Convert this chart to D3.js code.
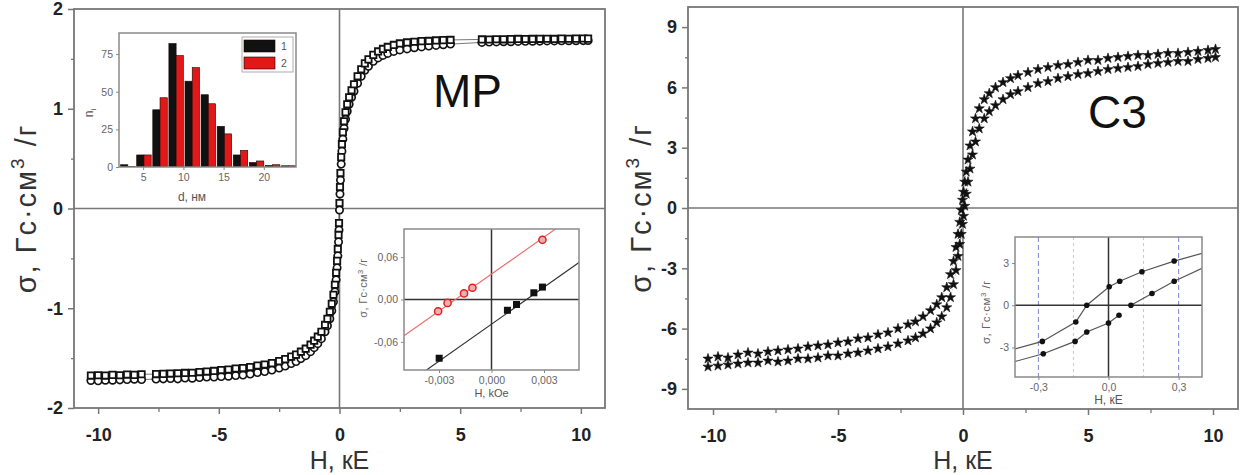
<!DOCTYPE html>
<html><head><meta charset="utf-8">
<script src="https://cdn.jsdelivr.net/npm/d3@7"></script>
<style>
body{margin:0;background:#fff;}
svg{display:block;font-family:"Liberation Sans",Arial,sans-serif;}
</style>
</head><body>
<svg id="c" width="1241" height="475"></svg>
<script>
// ---------------- DATA ----------------
// Panel MP: field H (kOe) and two branches of sigma
const mpH = [-10.3,-10.0,-9.7,-9.4,-9.1,-8.8,-8.5,-8.2,
  -7.6,-7.3,-7.0,-6.7,-6.4,-6.1,-5.8,-5.5,-5.2,-4.9,-4.6,-4.3,-4.0,
  -3.7,-3.4,-3.1,-2.8,-2.5,-2.25,-2.0,-1.8,-1.6,-1.4,-1.2,-1.05,-0.9,-0.75,-0.6,-0.5,-0.4,-0.32,-0.25,-0.19,-0.14,-0.1,-0.07,-0.04,-0.02,
  0,
  0.02,0.04,0.07,0.1,0.14,0.19,0.25,0.32,0.4,0.5,0.6,0.75,0.9,1.05,1.2,1.4,1.6,1.8,2.0,2.25,2.5,2.8,3.1,3.4,3.7,4.0,4.3,4.6,
  5.9,6.2,6.5,6.8,7.1,7.4,7.7,8.0,8.3,8.6,8.9,9.2,9.5,9.8,10.1,10.3];
const mpBranchA = [-1.675,-1.672,-1.675,-1.668,-1.672,-1.665,-1.668,-1.662,
  -1.66,-1.658,-1.655,-1.652,-1.648,-1.646,-1.64,-1.635,-1.628,-1.62,-1.615,-1.605,-1.60,
  -1.59,-1.575,-1.565,-1.55,-1.53,-1.51,-1.485,-1.465,-1.435,-1.405,-1.365,-1.325,-1.285,-1.235,-1.165,-1.105,-1.035,-0.955,-0.865,-0.765,-0.645,-0.525,-0.405,-0.265,-0.145,
  0.055,
  0.215,0.355,0.515,0.645,0.765,0.875,0.965,1.045,1.115,1.185,1.245,1.325,1.395,1.455,1.495,1.54,1.575,1.60,1.62,1.64,1.655,1.665,1.672,1.678,1.68,1.685,1.688,1.69,
  1.695,1.694,1.697,1.696,1.698,1.70,1.699,1.70,1.701,1.702,1.70,1.703,1.702,1.703,1.704,1.703];
const mpBranchB = [-1.725,-1.728,-1.722,-1.722,-1.718,-1.715,-1.712,-1.715,
  -1.71,-1.708,-1.705,-1.708,-1.70,-1.702,-1.695,-1.69,-1.69,-1.685,-1.682,-1.675,-1.67,
  -1.66,-1.645,-1.635,-1.62,-1.60,-1.58,-1.555,-1.535,-1.505,-1.475,-1.435,-1.395,-1.355,-1.305,-1.235,-1.175,-1.105,-1.025,-0.935,-0.835,-0.715,-0.595,-0.475,-0.335,-0.215,
  -0.015,
  0.145,0.285,0.445,0.575,0.695,0.805,0.895,0.975,1.045,1.115,1.175,1.255,1.325,1.385,1.425,1.475,1.51,1.535,1.555,1.575,1.59,1.60,1.612,1.62,1.628,1.635,1.642,1.648,
  1.665,1.668,1.67,1.672,1.672,1.675,1.676,1.677,1.678,1.68,1.68,1.681,1.682,1.682,1.683,1.684];

// Panel C3: field H (kOe) and two hysteresis branches
const c3H = [-10.2,-9.8,-9.4,-9.0,-8.6,-8.2,-7.8,-7.4,-7.0,-6.6,
  -6.2,-5.8,-5.4,-5.0,-4.6,-4.2,-3.8,-3.4,-3.0,-2.6,
  -2.2,-1.9,-1.6,-1.3,-1.05,-0.85,-0.65,-0.5,-0.38,-0.28,
  -0.2,-0.13,-0.07,-0.02,
  0.02,0.07,0.13,0.2,
  0.28,0.38,0.5,0.65,0.85,1.05,1.3,1.6,1.9,2.2,
  2.6,3.0,3.4,3.8,4.2,4.6,5.0,5.4,5.8,6.2,
  6.6,7.0,7.4,7.8,8.2,8.6,9.0,9.4,9.8,10.1];
const c3Down = [-7.5,-7.4,-7.45,-7.3,-7.2,-7.25,-7.15,-7.1,-7.05,-7.0,
  -6.9,-6.85,-6.8,-6.7,-6.65,-6.5,-6.45,-6.3,-6.2,-6.0,
  -5.8,-5.65,-5.4,-5.1,-4.8,-4.45,-3.95,-3.3,-2.65,-1.95,
  -1.3,-0.7,-0.1,0.4,
  0.8,1.3,1.8,2.4,
  3.1,3.8,4.45,4.95,5.4,5.7,6.0,6.25,6.45,6.6,
  6.75,6.9,7.0,7.1,7.15,7.25,7.35,7.35,7.45,7.5,
  7.55,7.6,7.6,7.65,7.7,7.7,7.75,7.8,7.85,7.9];
const c3Up = [-7.9,-7.85,-7.8,-7.75,-7.7,-7.7,-7.6,-7.65,-7.6,-7.5,
  -7.5,-7.45,-7.35,-7.35,-7.25,-7.2,-7.1,-7.0,-6.9,-6.75,
  -6.6,-6.45,-6.25,-6.0,-5.7,-5.4,-4.95,-4.45,-3.8,-3.1,
  -2.4,-1.8,-1.3,-0.8,
  -0.4,0.1,0.7,1.3,
  1.95,2.65,3.3,3.95,4.45,4.8,5.1,5.4,5.65,5.8,
  6.0,6.2,6.3,6.45,6.55,6.65,6.7,6.8,6.9,6.95,
  7.0,7.05,7.15,7.2,7.25,7.3,7.3,7.4,7.45,7.5];

// Histogram inset (size distribution)
const histD = [3,5,7,9,11,13,15,17,19,21,23];
const hist1 = [1.5,8,38,82,57,48,27,8,3,1,0.8];
const hist2 = [0.3,8,46,74,66,42,22,11,4,1.5,0.8];
const histSeries = ["1","2"];
const histXTicks = [5,10,15,20];
const histYTicks = [0,25,50,75];

// MP low-field inset
const lowRedH = [-0.00305,-0.00251,-0.00157,-0.00109,0.00291];
const lowRedS = [-0.0167,-0.0048,0.0086,0.0167,0.0847];
const lowBlackH = [-0.00299,0.00091,0.00143,0.00242,0.00291];
const lowBlackS = [-0.0833,-0.0153,-0.0071,0.0095,0.0176];
const lowFitIntercept = [0.036,-0.035];
const lowFitSlope = [17.5,17.5];
const lowXTicks = [-0.003,0,0.003];
const lowXTickLabels = ["-0,003","0,000","0,003"];
const lowYTicks = [-0.06,0,0.06];
const lowYTickLabels = ["-0,06","0,00","0,06"];

// C3 low-field inset (loop)
const loopUpperH = [-0.4,-0.283,-0.14,-0.093,0.003,0.048,0.143,0.281,0.4];
const loopUpperS = [-3.1,-2.57,-1.19,0.0,1.31,1.71,2.38,3.14,3.69];
const loopLowerH = [-0.4,-0.279,-0.143,-0.093,0.0,0.045];
const loopLowerS = [-4.0,-3.45,-2.57,-1.9,-1.26,-0.71];
const loopLower2H = [0.096,0.186,0.281,0.4];
const loopLower2S = [0.0,0.83,1.71,2.62];
const loopGuideStrong = [-0.3,0.3];
const loopGuideLight = [-0.15,0.15];
const loopXTicks = [-0.3,0,0.3];
const loopXTickLabels = ["-0,3","0,0","0,3"];
const loopYTicks = [-3,0,3];
const loopYTickLabels = ["-3","0","3"];

// Main axes ticks
const mainXMajor = [-10,-5,0,5,10];
const mainXMinor = [-7.5,-2.5,2.5,7.5];
const mpYMajor = [-2,-1,0,1,2];
const mpYMinor = [-1.5,-0.5,0.5,1.5];
const c3YMajor = [-9,-6,-3,0,3,6,9];
const c3YMinor = [-7.5,-4.5,-1.5,1.5,4.5,7.5];

// ---------------- DRAWING ----------------
const svg = d3.select("#c");
const FRAME = "#777";

function styleAxis(sel, size, weight, fill, lineColor, lw){
  sel.select(".domain").remove();
  sel.selectAll(".tick line").attr("stroke", lineColor).attr("stroke-width", lw);
  sel.selectAll(".tick text").attr("font-size", size).attr("font-weight", weight)
     .attr("fill", fill).attr("font-family", '"Liberation Sans", Arial, sans-serif');
}

function yLabel(g, x, cy, size, supSize, supShift, color, spacing){
  const t = g.append("text").attr("transform", `translate(${x},${cy}) rotate(-90)`)
    .attr("text-anchor","middle").attr("font-size", size).attr("fill", color)
    .attr("letter-spacing", spacing || 0);
  t.append("tspan").text("σ, Гс·см");
  t.append("tspan").attr("font-size", supSize).attr("dy", -supShift).text("3");
  t.append("tspan").attr("dy", supShift).text(" /г");
  return t;
}

function mainPanel(box, yDom, yMaj, yMin, labelX, title){
  const x = d3.scaleLinear().domain([-11,11]).range([box.x0, box.x1]);
  const y = d3.scaleLinear().domain(yDom).range([box.y1, box.y0]);
  const g = svg.append("g");
  g.append("line").attr("x1",box.x0).attr("x2",box.x1).attr("y1",y(0)).attr("y2",y(0))
    .attr("stroke",FRAME).attr("stroke-width",1.6);
  g.append("line").attr("x1",x(0)).attr("x2",x(0)).attr("y1",box.y0).attr("y2",box.y1)
    .attr("stroke",FRAME).attr("stroke-width",1.6);
  g.append("rect").attr("x",box.x0).attr("y",box.y0).attr("width",box.x1-box.x0)
    .attr("height",box.y1-box.y0).attr("fill","none").attr("stroke",FRAME).attr("stroke-width",1.8);
  const bx = g.append("g").attr("transform",`translate(0,${box.y1})`)
    .call(d3.axisBottom(x).tickValues(mainXMajor).tickSize(6).tickPadding(14).tickFormat(d=>String(d)));
  styleAxis(bx, 18, "bold", "#222", FRAME, 1.5);
  const bxm = g.append("g").attr("transform",`translate(0,${box.y1})`)
    .call(d3.axisBottom(x).tickValues(mainXMinor).tickSize(4).tickFormat(""));
  styleAxis(bxm, 1, "normal", "#222", FRAME, 1.3);
  const ly = g.append("g").attr("transform",`translate(${box.x0},0)`)
    .call(d3.axisLeft(y).tickValues(yMaj).tickSize(6).tickPadding(5).tickFormat(d=>String(d)));
  styleAxis(ly, 18, "bold", "#222", FRAME, 1.5);
  const lym = g.append("g").attr("transform",`translate(${box.x0},0)`)
    .call(d3.axisLeft(y).tickValues(yMin).tickSize(3).tickFormat(""));
  styleAxis(lym, 1, "normal", "#222", FRAME, 1.3);
  g.append("text").attr("x",(x(0))).attr("y",469).attr("text-anchor","middle")
    .attr("font-size",25).attr("fill","#333").text("H, кЕ");
  yLabel(g, labelX, y(0), 29, 19, 12, "#333", 2);
  g.append("text").attr("x",title.x).attr("y",title.y).attr("font-size",title.size)
    .attr("fill","#111").text(title.text);
  return {x,y,g};
}

// ---- Left main panel (MP)
const L = {x0:74, x1:605, y0:9, y1:408};
const mp = mainPanel(L, [-2,2], mpYMajor, mpYMinor, 36, {x:433,y:107,size:46,text:"MP"});
const lineGen = (xs,ys) => d3.line().x(d=>xs(d[0])).y(d=>ys(d[1]));
const mpA = mpH.map((h,i)=>[h, mpBranchA[i]]);
const mpB = mpH.map((h,i)=>[h, mpBranchB[i]]);
[mpA, mpB].forEach(pts=>{
  mp.g.append("path").attr("d", lineGen(mp.x,mp.y)(pts)).attr("fill","none")
    .attr("stroke","#555").attr("stroke-width",0.8);
});
mp.g.selectAll(".mpb").data(mpB).enter().append("path")
  .attr("transform",d=>`translate(${mp.x(d[0])},${mp.y(d[1])})`)
  .attr("d", d3.symbol().type(d3.symbolCircle).size(42)())
  .attr("fill","#fff").attr("stroke","#111").attr("stroke-width",1.7);
mp.g.selectAll(".mpa").data(mpA).enter().append("path")
  .attr("transform",d=>`translate(${mp.x(d[0])},${mp.y(d[1])})`)
  .attr("d", d3.symbol().type(d3.symbolSquare).size(40)())
  .attr("fill","#fff").attr("stroke","#111").attr("stroke-width",1.8);

// ---- Right main panel (C3)
const R = {x0:688, x1:1238, y0:7, y1:409};
const c3 = mainPanel(R, [-10,10], c3YMajor, c3YMinor, 651, {x:1088,y:128,size:46,text:"C3"});
const star = d3.symbol().type(d3.symbolStar).size(32)();
[c3Down, c3Up].forEach(arr=>{
  const pts = c3H.map((h,i)=>[h, arr[i]]);
  c3.g.append("path").attr("d", lineGen(c3.x,c3.y)(pts)).attr("fill","none")
    .attr("stroke","#999").attr("stroke-width",0.6).attr("stroke-dasharray","1.5,1.5");
  c3.g.selectAll(null).data(pts).enter().append("path")
    .attr("transform",d=>`translate(${c3.x(d[0])},${c3.y(d[1])})`)
    .attr("d", star).attr("fill","#111").attr("stroke","#111").attr("stroke-width",0.6);
});

// ---- Inset helper
function inset(box, xDom, yDom){
  const x = d3.scaleLinear().domain(xDom).range([box.x0, box.x1]);
  const y = d3.scaleLinear().domain(yDom).range([box.y1, box.y0]);
  const g = svg.append("g");
  g.append("rect").attr("x",box.x0).attr("y",box.y0).attr("width",box.x1-box.x0)
    .attr("height",box.y1-box.y0).attr("fill","#fff");
  const id = "clip"+Math.round(box.x0);
  g.append("clipPath").attr("id",id).append("rect").attr("x",box.x0).attr("y",box.y0)
    .attr("width",box.x1-box.x0).attr("height",box.y1-box.y0);
  const inner = g.append("g").attr("clip-path",`url(#${id})`);
  return {x,y,g,inner,box};
}
function insetFrame(ins){
  const b = ins.box;
  ins.g.append("rect").attr("x",b.x0).attr("y",b.y0).attr("width",b.x1-b.x0)
    .attr("height",b.y1-b.y0).attr("fill","none").attr("stroke","#8a8a8a").attr("stroke-width",1.5);
}
function insetAxes(ins, xt, xl, yt, yl){
  const b = ins.box;
  const ax = ins.g.append("g").attr("transform",`translate(0,${b.y1})`)
    .call(d3.axisBottom(ins.x).tickValues(xt).tickSize(3).tickPadding(4).tickFormat((d,i)=>xl[i]));
  styleAxis(ax, 10.5, "normal", "#666", "#888", 1);
  const ay = ins.g.append("g").attr("transform",`translate(${b.x0},0)`)
    .call(d3.axisLeft(ins.y).tickValues(yt).tickSize(3).tickPadding(3).tickFormat((d,i)=>yl[i]));
  styleAxis(ay, 10.5, "normal", "#666", "#888", 1);
}
function zeroLines(ins, color){
  const b = ins.box;
  ins.inner.append("line").attr("x1",b.x0).attr("x2",b.x1).attr("y1",ins.y(0)).attr("y2",ins.y(0))
    .attr("stroke",color).attr("stroke-width",1.5);
  ins.inner.append("line").attr("x1",ins.x(0)).attr("x2",ins.x(0)).attr("y1",b.y0).attr("y2",b.y1)
    .attr("stroke",color).attr("stroke-width",1.5);
}

// ---- Histogram inset
const hi = inset({x0:119,x1:296,y0:33,y1:167}, [2,24], [0,89]);
const histColors = ["#111","#e01818"];
[hist1, hist2].forEach((vals, s)=>{
  hi.inner.selectAll(null).data(histD.map((d,i)=>[d, vals[i]])).enter().append("rect")
    .attr("x", d=> hi.x(d[0] + (s===0 ? -0.8 : 0.1)))
    .attr("width", d=> hi.x(d[0]+0.9) - hi.x(d[0]))
    .attr("y", d=> hi.y(d[1]))
    .attr("height", d=> hi.y(0) - hi.y(d[1]))
    .attr("fill", histColors[s]).attr("stroke","#200").attr("stroke-width",0.6);
});
insetFrame(hi);
insetAxes(hi, histXTicks, histXTicks.map(String), histYTicks, histYTicks.map(String));
hi.g.append("text").attr("x",192).attr("y",201).attr("text-anchor","middle")
  .attr("font-size",12).attr("fill","#555").text("d, нм");
const nl = hi.g.append("text").attr("transform","translate(93,113) rotate(-90)")
  .attr("text-anchor","middle").attr("font-size",12).attr("fill","#555");
nl.append("tspan").text("n");
nl.append("tspan").attr("font-size",8).attr("dy",3).text("i");
// legend
const lg = hi.g.append("g");
lg.append("rect").attr("x",242).attr("y",37).attr("width",51).attr("height",35)
  .attr("fill","#fff").attr("stroke","#999").attr("stroke-width",0.8);
histSeries.forEach((s,i)=>{
  lg.append("rect").attr("x",244).attr("y",40+i*17).attr("width",31).attr("height",12)
    .attr("fill",histColors[i]).attr("stroke","#200").attr("stroke-width",0.6);
  lg.append("text").attr("x",281).attr("y",50+i*17).attr("font-size",10.5).attr("fill","#555").text(s);
});

// ---- MP low-field inset
const lo = inset({x0:404,x1:579,y0:229,y1:370}, [-0.005,0.005], [-0.1,0.1]);
zeroLines(lo, "#333");
const fitColors = ["#ee7070","#333"];
lowFitIntercept.forEach((a,i)=>{
  const pts = lo.x.domain().map(h=>[h, a + lowFitSlope[i]*h]);
  lo.inner.append("path").attr("d", lineGen(lo.x,lo.y)(pts)).attr("fill","none")
    .attr("stroke",fitColors[i]).attr("stroke-width",1.2);
});
lo.inner.selectAll(null).data(lowBlackH.map((h,i)=>[h,lowBlackS[i]])).enter().append("rect")
  .attr("x",d=>lo.x(d[0])-3.5).attr("y",d=>lo.y(d[1])-3.5).attr("width",7).attr("height",7)
  .attr("fill","#111");
lo.inner.selectAll(null).data(lowRedH.map((h,i)=>[h,lowRedS[i]])).enter().append("circle")
  .attr("cx",d=>lo.x(d[0])).attr("cy",d=>lo.y(d[1])).attr("r",3.6)
  .attr("fill","#e9b0b0").attr("stroke","#e02020").attr("stroke-width",1.5);
insetFrame(lo);
insetAxes(lo, lowXTicks, lowXTickLabels, lowYTicks, lowYTickLabels);
lo.g.append("text").attr("x",lo.x(0)).attr("y",397).attr("text-anchor","middle")
  .attr("font-size",11).attr("fill","#555").text("H, kOe");
yLabel(lo.g, 367, 288, 11, 8, 4, "#666", 0.3);

// ---- C3 low-field inset
const lp = inset({x0:1015,x1:1202,y0:237,y1:377}, [-0.4,0.4], [-5.1,4.85]);
loopGuideLight.forEach(v=>{
  lp.inner.append("line").attr("x1",lp.x(v)).attr("x2",lp.x(v)).attr("y1",237).attr("y2",377)
    .attr("stroke","#c4c4e0").attr("stroke-width",1).attr("stroke-dasharray","3,3");
});
loopGuideStrong.forEach(v=>{
  lp.inner.append("line").attr("x1",lp.x(v)).attr("x2",lp.x(v)).attr("y1",237).attr("y2",377)
    .attr("stroke","#8080d8").attr("stroke-width",1).attr("stroke-dasharray","5,3");
});
zeroLines(lp, "#333");
[[loopUpperH,loopUpperS],[loopLowerH,loopLowerS],[loopLower2H,loopLower2S]].forEach(([hs,ss])=>{
  const pts = hs.map((h,i)=>[h, ss[i]]);
  lp.inner.append("path").attr("d", lineGen(lp.x,lp.y)(pts)).attr("fill","none")
    .attr("stroke","#555").attr("stroke-width",1.2);
  lp.inner.selectAll(null).data(pts.filter(p=>Math.abs(p[0])<0.39)).enter().append("circle")
    .attr("cx",d=>lp.x(d[0])).attr("cy",d=>lp.y(d[1])).attr("r",2.8).attr("fill","#111");
});
insetFrame(lp);
insetAxes(lp, loopXTicks, loopXTickLabels, loopYTicks, loopYTickLabels);
lp.g.append("text").attr("x",lp.x(0)).attr("y",404).attr("text-anchor","middle")
  .attr("font-size",12).attr("fill","#555").text("H, кЕ");
yLabel(lp.g, 990, 312, 11.5, 8, 4, "#666", 0.5);
</script>
</body></html>
